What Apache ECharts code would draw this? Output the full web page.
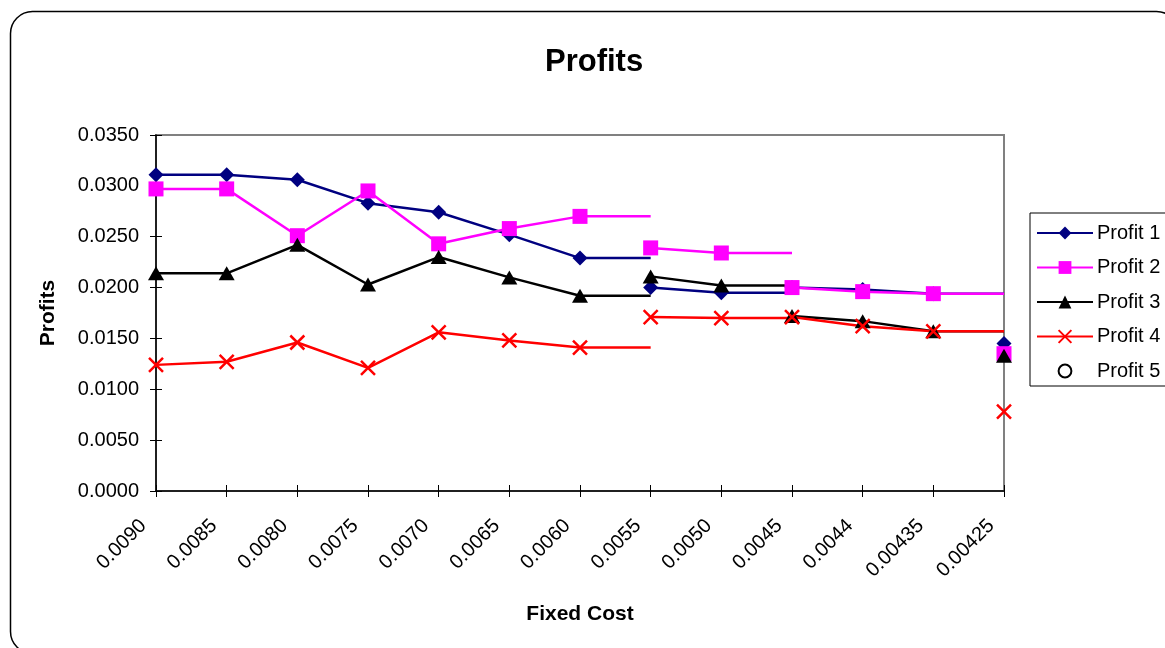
<!DOCTYPE html>
<html>
<head>
<meta charset="utf-8">
<script src="https://cdn.jsdelivr.net/npm/echarts@6/dist/echarts.min.js"></script>
<style>
  html, body { margin: 0; padding: 0; background: #fff; }
  #chart { width: 1165px; height: 648px; }
</style>
</head>
<body>
<div id="chart"></div>
<script>
// fixed cost categories (x axis)
var categories = ['0.0090', '0.0085', '0.0080', '0.0075', '0.0070', '0.0065', '0.0060',
                  '0.0055', '0.0050', '0.0045', '0.0044', '0.00435', '0.00425'];

// profit values, one per category
var profit1 = [0.0311, 0.0311, 0.0306, 0.0283, 0.0274, 0.0252, 0.0229, 0.0200, 0.0195, 0.0200, 0.0198, 0.0194, 0.0145];
var profit2 = [0.0297, 0.0297, 0.0251, 0.0295, 0.0243, 0.0258, 0.0270, 0.0239, 0.0234, 0.0200, 0.0196, 0.0194, 0.0135];
var profit3 = [0.0214, 0.0214, 0.0242, 0.0203, 0.0230, 0.0210, 0.0192, 0.0211, 0.0202, 0.0172, 0.0167, 0.0157, 0.0133];
var profit4 = [0.0124, 0.0127, 0.0146, 0.0121, 0.0156, 0.0148, 0.0141, 0.0171, 0.0170, 0.0171, 0.0162, 0.0157, 0.0078];

// groups of categories drawn as one line piece (first, last index)
var segments = [[0, 6], [7, 8], [9, 11], [12, 12]];

var font = 'Liberation Sans, Arial, sans-serif';
var crossX = 'path://M0,0 L10,10 M10,0 L0,10';

function pieces(name, values, color, symbol, size, extraStyle) {
  var out = [];
  segments.forEach(function (seg) {
    var d = [];
    for (var i = seg[0]; i <= seg[1]; i++) d.push([i, values[i]]);
    // each piece carries its last value on to the next category, no marker
    if (seg[1] + 1 < categories.length) {
      d.push({ value: [seg[1] + 1, values[seg[1]]], symbol: 'none' });
    }
    var itemStyle = { color: color };
    if (extraStyle) for (var k in extraStyle) itemStyle[k] = extraStyle[k];
    out.push({
      name: name,
      type: 'line',
      data: d,
      symbol: symbol,
      symbolSize: size,
      showAllSymbol: true,
      animation: false,
      lineStyle: { color: color, width: 2.5 },
      itemStyle: itemStyle
    });
  });
  return out;
}

var series = []
  .concat(pieces('Profit 1', profit1, '#000080', 'diamond', 15))
  .concat(pieces('Profit 2', profit2, '#ff00ff', 'rect', 15))
  .concat(pieces('Profit 3', profit3, '#000000', 'triangle', [16, 14]))
  .concat(pieces('Profit 4', profit4, '#ff0000', crossX, 14, { borderColor: '#ff0000', borderWidth: 2.5 }));

series.push({
  name: 'Profit 5',
  type: 'line',
  data: [],
  symbol: 'emptyCircle',
  symbolSize: 10,
  lineStyle: { opacity: 0 },
  itemStyle: { color: '#000000' }
});

var myChart = echarts.init(document.getElementById('chart'));

var option = {
  backgroundColor: '#fff',
  animation: false,
  title: {
    text: 'Profits',
    left: 540,
    top: 42,
    textStyle: { fontFamily: font, fontSize: 31, fontWeight: 'bold', color: '#000' }
  },
  graphic: [{
    type: 'rect',
    shape: { x: 10.5, y: 11.5, width: 1168, height: 642, r: 22 },
    style: { fill: 'none', stroke: '#000', lineWidth: 1.5 },
    z: -1
  }],
  legend: {
    orient: 'vertical',
    left: 1030,
    top: 213,
    padding: [9, 12, 4, 6],
    itemWidth: 56,
    itemHeight: 16,
    itemGap: 12.5,
    borderColor: '#000',
    borderWidth: 1,
    borderRadius: 0,
    data: ['Profit 1', 'Profit 2', 'Profit 3', 'Profit 4', 'Profit 5'],
    textStyle: { fontFamily: font, fontSize: 20, color: '#000', lineHeight: 22, padding: [0, 0, 0, -1] }
  },
  grid: {
    left: 156,
    right: 161,
    top: 135,
    bottom: 157,
    show: true,
    borderColor: '#808080',
    borderWidth: 2,
    backgroundColor: '#fff'
  },
  xAxis: [{
    type: 'category',
    data: categories,
    boundaryGap: false,
    name: 'Fixed Cost',
    nameLocation: 'middle',
    nameGap: 113,
    nameTextStyle: { fontFamily: font, fontSize: 21, fontWeight: 'bold', color: '#000' },
    axisLine: { lineStyle: { color: '#000', width: 1.5 } },
    axisTick: { length: 6, lineStyle: { color: '#000' } },
    axisLabel: {
      rotate: 45, margin: 19, padding: [0, 18, 0, 0],
      fontFamily: font, fontSize: 20, color: '#000', interval: 0
    },
    splitLine: { show: false }
  }, {
    // inner half of the crossing ticks
    type: 'category',
    data: categories,
    boundaryGap: false,
    position: 'bottom',
    axisLine: { show: false },
    axisTick: { inside: true, length: 6, lineStyle: { color: '#000' } },
    axisLabel: { show: false },
    splitLine: { show: false }
  }],
  yAxis: [{
    type: 'value',
    min: 0,
    max: 0.035,
    interval: 0.005,
    name: 'Profits',
    nameLocation: 'middle',
    nameGap: 97,
    nameTextStyle: { fontFamily: font, fontSize: 21, fontWeight: 'bold', color: '#000' },
    axisLine: { show: true, lineStyle: { color: '#000', width: 1.5 } },
    axisTick: { show: true, length: 6, lineStyle: { color: '#000' } },
    axisLabel: {
      margin: 17,
      fontFamily: font,
      fontSize: 20,
      color: '#000',
      formatter: function (v) { return v.toFixed(4); }
    },
    splitLine: { show: false }
  }, {
    type: 'value',
    min: 0,
    max: 0.035,
    interval: 0.005,
    position: 'left',
    axisLine: { show: false },
    axisTick: { show: true, inside: true, length: 6, lineStyle: { color: '#000' } },
    axisLabel: { show: false },
    splitLine: { show: false }
  }],
  series: series
};

myChart.setOption(option);
</script>
</body>
</html>
